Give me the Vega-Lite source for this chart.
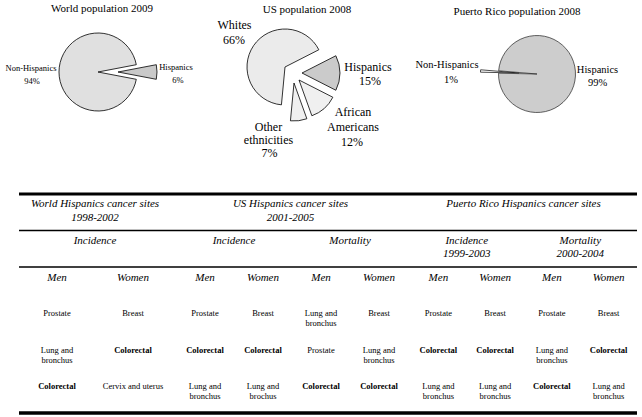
{
  "$schema": "https://vega.github.io/schema/vega-lite/v6.json",
  "padding": {"left": 0, "top": 0, "right": 0, "bottom": 0},
  "spacing": 26,
  "config": {"view": {"stroke": null}, "font": "Liberation Serif", "text": {"font": "Liberation Serif", "color": "black"}},
  "datasets": {
    "world": [{"group": "Hispanics", "share": 0.06}, {"group": "Non-Hispanics", "share": 0.94}],
    "us": [{"group": "Whites", "share": 0.66}, {"group": "Hispanics", "share": 0.15}, {"group": "African Americans", "share": 0.12}, {"group": "Other ethnicities", "share": 0.07}],
    "pr": [{"group": "Hispanics", "share": 0.99}, {"group": "Non-Hispanics", "share": 0.01}],
    "pieTitles": [{"pie": "World", "title": "World population 2009"}, {"pie": "US", "title": "US population 2008"}, {"pie": "Puerto Rico", "title": "Puerto Rico population 2008"}],
    "sections": [{"region": "World", "title": "World Hispanics cancer sites", "years": "1998-2002"}, {"region": "US", "title": "US Hispanics cancer sites", "years": "2001-2005"}, {"region": "Puerto Rico", "title": "Puerto Rico Hispanics cancer sites"}],
    "measures": [{"region": "World", "measure": "Incidence"}, {"region": "US", "measure": "Incidence"}, {"region": "US", "measure": "Mortality"}, {"region": "Puerto Rico", "measure": "Incidence", "years": "1999-2003"}, {"region": "Puerto Rico", "measure": "Mortality", "years": "2000-2004"}],
    "cells": [
      {"region": "World", "measure": "Incidence", "sex": "Men", "rank": "1st", "site": "Prostate"},
      {"region": "World", "measure": "Incidence", "sex": "Men", "rank": "2nd", "site": "Lung and\nbronchus"},
      {"region": "World", "measure": "Incidence", "sex": "Men", "rank": "3rd", "site": "Colorectal"},
      {"region": "World", "measure": "Incidence", "sex": "Women", "rank": "1st", "site": "Breast"},
      {"region": "World", "measure": "Incidence", "sex": "Women", "rank": "2nd", "site": "Colorectal"},
      {"region": "World", "measure": "Incidence", "sex": "Women", "rank": "3rd", "site": "Cervix and uterus"},
      {"region": "US", "measure": "Incidence", "sex": "Men", "rank": "1st", "site": "Prostate"},
      {"region": "US", "measure": "Incidence", "sex": "Men", "rank": "2nd", "site": "Colorectal"},
      {"region": "US", "measure": "Incidence", "sex": "Men", "rank": "3rd", "site": "Lung and\nbronchus"},
      {"region": "US", "measure": "Incidence", "sex": "Women", "rank": "1st", "site": "Breast"},
      {"region": "US", "measure": "Incidence", "sex": "Women", "rank": "2nd", "site": "Colorectal"},
      {"region": "US", "measure": "Incidence", "sex": "Women", "rank": "3rd", "site": "Lung and\nbrochus"},
      {"region": "US", "measure": "Mortality", "sex": "Men", "rank": "1st", "site": "Lung and\nbronchus"},
      {"region": "US", "measure": "Mortality", "sex": "Men", "rank": "2nd", "site": "Prostate"},
      {"region": "US", "measure": "Mortality", "sex": "Men", "rank": "3rd", "site": "Colorectal"},
      {"region": "US", "measure": "Mortality", "sex": "Women", "rank": "1st", "site": "Breast"},
      {"region": "US", "measure": "Mortality", "sex": "Women", "rank": "2nd", "site": "Lung and\nbronchus"},
      {"region": "US", "measure": "Mortality", "sex": "Women", "rank": "3rd", "site": "Colorectal"},
      {"region": "Puerto Rico", "measure": "Incidence", "sex": "Men", "rank": "1st", "site": "Prostate"},
      {"region": "Puerto Rico", "measure": "Incidence", "sex": "Men", "rank": "2nd", "site": "Colorectal"},
      {"region": "Puerto Rico", "measure": "Incidence", "sex": "Men", "rank": "3rd", "site": "Lung and\nbronchus"},
      {"region": "Puerto Rico", "measure": "Incidence", "sex": "Women", "rank": "1st", "site": "Breast"},
      {"region": "Puerto Rico", "measure": "Incidence", "sex": "Women", "rank": "2nd", "site": "Colorectal"},
      {"region": "Puerto Rico", "measure": "Incidence", "sex": "Women", "rank": "3rd", "site": "Lung and\nbronchus"},
      {"region": "Puerto Rico", "measure": "Mortality", "sex": "Men", "rank": "1st", "site": "Prostate"},
      {"region": "Puerto Rico", "measure": "Mortality", "sex": "Men", "rank": "2nd", "site": "Lung and\nbronchus"},
      {"region": "Puerto Rico", "measure": "Mortality", "sex": "Men", "rank": "3rd", "site": "Colorectal"},
      {"region": "Puerto Rico", "measure": "Mortality", "sex": "Women", "rank": "1st", "site": "Breast"},
      {"region": "Puerto Rico", "measure": "Mortality", "sex": "Women", "rank": "2nd", "site": "Colorectal"},
      {"region": "Puerto Rico", "measure": "Mortality", "sex": "Women", "rank": "3rd", "site": "Lung and\nbronchus"}
    ]
  },
  "vconcat": [
    {
      "spacing": 0,
      "bounds": "flush",
      "resolve": {"scale": {"color": "independent", "theta": "independent", "opacity": "independent"}},
      "hconcat": [
        {
          "width": 196, "height": 166,
          "layer": [
            {"data": {"name": "world"}, "mark": {"type": "arc", "radius": 39, "stroke": "black", "strokeWidth": 0.8, "yOffset": -11},
             "encoding": {
               "theta": {"field": "share", "type": "quantitative", "stack": true, "scale": {"domain": [0, 1], "range": [1.75929, 8.04248]}},
               "order": {"field": "share", "type": "quantitative", "sort": "descending"},
               "color": {"field": "group", "type": "nominal", "scale": {"domain": ["Non-Hispanics", "Hispanics"], "range": ["#e0e0e0", "#c9c9c9"]}, "legend": null},
               "opacity": {"condition": {"test": "datum.group === 'Non-Hispanics'", "value": 1}, "value": 0}}},
            {"data": {"name": "world"}, "mark": {"type": "arc", "radius": 39, "stroke": "black", "strokeWidth": 0.8, "xOffset": 20, "yOffset": -11},
             "encoding": {
               "theta": {"field": "share", "type": "quantitative", "stack": true, "scale": {"domain": [0, 1], "range": [1.75929, 8.04248]}},
               "order": {"field": "share", "type": "quantitative", "sort": "descending"},
               "color": {"field": "group", "type": "nominal", "scale": {"domain": ["Non-Hispanics", "Hispanics"], "range": ["#e0e0e0", "#c9c9c9"]}, "legend": null},
               "opacity": {"condition": {"test": "datum.group === 'Hispanics'", "value": 1}, "value": 0}}},
            {"data": {"name": "pieTitles"}, "transform": [{"filter": "datum.pie === 'World'"}], "mark": {"type": "text", "fontSize": 11, "dx": 4, "dy": -74.5}, "encoding": {"text": {"field": "title"}}},
            {"data": {"name": "world"}, "transform": [{"filter": "datum.group === 'Non-Hispanics'"}], "mark": {"type": "text", "fontSize": 8.5, "dx": -67, "dy": -15}, "encoding": {"text": {"field": "group"}}},
            {"data": {"name": "world"}, "transform": [{"filter": "datum.group === 'Non-Hispanics'"}], "mark": {"type": "text", "fontSize": 8.5, "dx": -66, "dy": -2}, "encoding": {"text": {"field": "share", "type": "quantitative", "format": ".0%"}}},
            {"data": {"name": "world"}, "transform": [{"filter": "datum.group === 'Hispanics'"}], "mark": {"type": "text", "fontSize": 8.5, "dx": 78, "dy": -16}, "encoding": {"text": {"field": "group"}}},
            {"data": {"name": "world"}, "transform": [{"filter": "datum.group === 'Hispanics'"}], "mark": {"type": "text", "fontSize": 8.5, "dx": 80, "dy": -3}, "encoding": {"text": {"field": "share", "type": "quantitative", "format": ".0%"}}}
          ]
        },
        {
          "width": 196, "height": 166,
          "layer": [
            {"data": {"name": "us"}, "mark": {"type": "arc", "radius": 38, "stroke": "black", "strokeWidth": 0.8, "xOffset": -9, "yOffset": -16},
             "encoding": {
               "theta": {"field": "share", "type": "quantitative", "stack": true, "scale": {"domain": [0, 1], "range": [3.23584, 9.51903]}},
               "order": {"field": "share", "type": "quantitative", "sort": "descending"},
               "color": {"field": "group", "type": "nominal", "scale": {"domain": ["Whites", "Hispanics", "African Americans", "Other ethnicities"], "range": ["#ebebeb", "#cbcbcb", "#f0f0f0", "#f0f0f0"]}, "legend": null},
               "opacity": {"condition": {"test": "datum.group === 'Whites'", "value": 1}, "value": 0}}},
            {"data": {"name": "us"}, "mark": {"type": "arc", "radius": 38, "stroke": "black", "strokeWidth": 0.8, "xOffset": 8, "yOffset": -10},
             "encoding": {
               "theta": {"field": "share", "type": "quantitative", "stack": true, "scale": {"domain": [0, 1], "range": [3.23584, 9.51903]}},
               "order": {"field": "share", "type": "quantitative", "sort": "descending"},
               "color": {"field": "group", "type": "nominal", "scale": {"domain": ["Whites", "Hispanics", "African Americans", "Other ethnicities"], "range": ["#ebebeb", "#cbcbcb", "#f0f0f0", "#f0f0f0"]}, "legend": null},
               "opacity": {"condition": {"test": "datum.group === 'Hispanics'", "value": 1}, "value": 0}}},
            {"data": {"name": "us"}, "mark": {"type": "arc", "radius": 38, "stroke": "black", "strokeWidth": 0.8, "xOffset": 5, "yOffset": -3},
             "encoding": {
               "theta": {"field": "share", "type": "quantitative", "stack": true, "scale": {"domain": [0, 1], "range": [3.23584, 9.51903]}},
               "order": {"field": "share", "type": "quantitative", "sort": "descending"},
               "color": {"field": "group", "type": "nominal", "scale": {"domain": ["Whites", "Hispanics", "African Americans", "Other ethnicities"], "range": ["#ebebeb", "#cbcbcb", "#f0f0f0", "#f0f0f0"]}, "legend": null},
               "opacity": {"condition": {"test": "datum.group === 'African Americans'", "value": 1}, "value": 0}}},
            {"data": {"name": "us"}, "mark": {"type": "arc", "radius": 38, "stroke": "black", "strokeWidth": 0.8, "xOffset": 0, "yOffset": 0},
             "encoding": {
               "theta": {"field": "share", "type": "quantitative", "stack": true, "scale": {"domain": [0, 1], "range": [3.23584, 9.51903]}},
               "order": {"field": "share", "type": "quantitative", "sort": "descending"},
               "color": {"field": "group", "type": "nominal", "scale": {"domain": ["Whites", "Hispanics", "African Americans", "Other ethnicities"], "range": ["#ebebeb", "#cbcbcb", "#f0f0f0", "#f0f0f0"]}, "legend": null},
               "opacity": {"condition": {"test": "datum.group === 'Other ethnicities'", "value": 1}, "value": 0}}},
            {"data": {"name": "pieTitles"}, "transform": [{"filter": "datum.pie === 'US'"}], "mark": {"type": "text", "fontSize": 11, "dx": 13, "dy": -73}, "encoding": {"text": {"field": "title"}}},
            {"data": {"name": "us"}, "transform": [{"filter": "datum.group === 'Whites'"}], "mark": {"type": "text", "fontSize": 12, "dx": -59.5, "dy": -58}, "encoding": {"text": {"field": "group"}}},
            {"data": {"name": "us"}, "transform": [{"filter": "datum.group === 'Whites'"}], "mark": {"type": "text", "fontSize": 12, "dx": -60, "dy": -43}, "encoding": {"text": {"field": "share", "type": "quantitative", "format": ".0%"}}},
            {"data": {"name": "us"}, "transform": [{"filter": "datum.group === 'Hispanics'"}], "mark": {"type": "text", "fontSize": 12, "dx": 74, "dy": -16}, "encoding": {"text": {"field": "group"}}},
            {"data": {"name": "us"}, "transform": [{"filter": "datum.group === 'Hispanics'"}], "mark": {"type": "text", "fontSize": 12, "dx": 76, "dy": -2}, "encoding": {"text": {"field": "share", "type": "quantitative", "format": ".0%"}}},
            {"data": {"name": "us"}, "transform": [{"filter": "datum.group === 'African Americans'"}], "mark": {"type": "text", "fontSize": 12, "lineBreak": " ", "lineHeight": 15, "dx": 59, "dy": 29}, "encoding": {"text": {"field": "group"}}},
            {"data": {"name": "us"}, "transform": [{"filter": "datum.group === 'African Americans'"}], "mark": {"type": "text", "fontSize": 12, "dx": 58, "dy": 59}, "encoding": {"text": {"field": "share", "type": "quantitative", "format": ".0%"}}},
            {"data": {"name": "us"}, "transform": [{"filter": "datum.group === 'Other ethnicities'"}], "mark": {"type": "text", "fontSize": 12, "lineBreak": " ", "lineHeight": 13.5, "dx": -25.5, "dy": 43.7}, "encoding": {"text": {"field": "group"}}},
            {"data": {"name": "us"}, "transform": [{"filter": "datum.group === 'Other ethnicities'"}], "mark": {"type": "text", "fontSize": 12, "dx": -24.5, "dy": 70.3}, "encoding": {"text": {"field": "share", "type": "quantitative", "format": ".0%"}}}
          ]
        },
        {
          "width": 250, "height": 166,
          "layer": [
            {"data": {"name": "pr"}, "mark": {"type": "arc", "radius": 38.5, "stroke": "black", "strokeWidth": 0.7, "xOffset": 2, "yOffset": -10},
             "encoding": {
               "theta": {"field": "share", "type": "quantitative", "stack": true, "scale": {"domain": [0, 1], "range": [4.79616, 11.07935]}},
               "order": {"field": "share", "type": "quantitative", "sort": "descending"},
               "color": {"field": "group", "type": "nominal", "scale": {"domain": ["Hispanics", "Non-Hispanics"], "range": ["#cdcdcd", "#ffffff"]}, "legend": null},
               "opacity": {"condition": {"test": "datum.group === 'Non-Hispanics'", "value": 1}, "value": 0}}},
            {"data": {"name": "pr"}, "mark": {"type": "arc", "radius": 38.5, "stroke": "#222222", "strokeWidth": 0.7, "xOffset": 20, "yOffset": -9},
             "encoding": {
               "theta": {"field": "share", "type": "quantitative", "stack": true, "scale": {"domain": [0, 1], "range": [4.79616, 11.07935]}},
               "order": {"field": "share", "type": "quantitative", "sort": "descending"},
               "color": {"field": "group", "type": "nominal", "scale": {"domain": ["Hispanics", "Non-Hispanics"], "range": ["#cdcdcd", "#ffffff"]}, "legend": null},
               "opacity": {"condition": {"test": "datum.group === 'Hispanics'", "value": 1}, "value": 0}}},
            {"data": {"name": "pieTitles"}, "transform": [{"filter": "datum.pie === 'Puerto Rico'"}], "mark": {"type": "text", "fontSize": 11, "dx": 0, "dy": -71}, "encoding": {"text": {"field": "title"}}},
            {"data": {"name": "pr"}, "transform": [{"filter": "datum.group === 'Non-Hispanics'"}], "mark": {"type": "text", "fontSize": 10.5, "dx": -70, "dy": -18}, "encoding": {"text": {"field": "group"}}},
            {"data": {"name": "pr"}, "transform": [{"filter": "datum.group === 'Non-Hispanics'"}], "mark": {"type": "text", "fontSize": 10.5, "dx": -66, "dy": -3}, "encoding": {"text": {"field": "share", "type": "quantitative", "format": ".0%"}}},
            {"data": {"name": "pr"}, "transform": [{"filter": "datum.group === 'Hispanics'"}], "mark": {"type": "text", "fontSize": 10.5, "dx": 80.5, "dy": -13}, "encoding": {"text": {"field": "group"}}},
            {"data": {"name": "pr"}, "transform": [{"filter": "datum.group === 'Hispanics'"}], "mark": {"type": "text", "fontSize": 10.5, "dx": 80.5, "dy": 0}, "encoding": {"text": {"field": "share", "type": "quantitative", "format": ".0%"}}}
          ]
        }
      ]
    },
    {
      "spacing": 0,
      "bounds": "flush",
      "resolve": {"scale": {"xOffset": "independent", "x": "independent", "y": "independent"}},
      "hconcat": [
        {
          "width": 171, "height": 219,
          "layer": [
            {"data": {"values": [{}]}, "mark": {"type": "rule", "strokeWidth": 3, "color": "black"},
             "encoding": {"x": {"datum": "Incidence", "type": "nominal", "bandPosition": 0, "scale": {"domain": ["Incidence"], "paddingInner": 0, "paddingOuter": 0.0625, "align": 1}, "axis": null}, "x2": {"value": "width"},
                          "y": {"datum": "Site", "type": "ordinal", "bandPosition": 0, "scale": {"domain": ["Site", "Measure", "Sex", "1st", "2nd", "3rd"], "paddingInner": 0, "paddingOuter": 0}, "axis": null}}},
            {"data": {"values": [{"edge": "Measure"}, {"edge": "Sex"}]}, "mark": {"type": "rule", "strokeWidth": 1.5, "color": "black"},
             "encoding": {"x": {"datum": "Incidence", "type": "nominal", "bandPosition": 0, "axis": null}, "x2": {"value": "width"},
                          "y": {"field": "edge", "type": "ordinal", "bandPosition": 0, "axis": null}}},
            {"data": {"values": [{}]}, "mark": {"type": "rule", "strokeWidth": 3.5, "color": "black"},
             "encoding": {"x": {"datum": "Incidence", "type": "nominal", "bandPosition": 0, "axis": null}, "x2": {"value": "width"},
                          "y": {"datum": "3rd", "type": "ordinal", "bandPosition": 1, "axis": null}}},
            {"data": {"name": "sections"}, "transform": [{"filter": "datum.region === 'World'"}], "mark": {"type": "text", "fontSize": 11, "fontStyle": "italic", "baseline": "top", "dy": -14.25},
             "encoding": {"x": {"datum": "Incidence", "type": "nominal", "axis": null}, "y": {"datum": "Site", "type": "ordinal", "axis": null}, "text": {"field": "title"}}},
            {"data": {"name": "sections"}, "transform": [{"filter": "datum.region === 'World'"}], "mark": {"type": "text", "fontSize": 11, "fontStyle": "italic", "baseline": "top", "dy": -0.25},
             "encoding": {"x": {"datum": "Incidence", "type": "nominal", "axis": null}, "y": {"datum": "Site", "type": "ordinal", "axis": null}, "text": {"field": "years"}}},
            {"data": {"name": "measures"}, "transform": [{"filter": "datum.region === 'World'"}], "mark": {"type": "text", "fontSize": 11, "fontStyle": "italic", "baseline": "top", "dy": -14},
             "encoding": {"x": {"field": "measure", "type": "nominal", "axis": null}, "y": {"datum": "Measure", "type": "ordinal", "axis": null}, "text": {"field": "measure"}}},
            {"data": {"name": "cells"}, "transform": [{"filter": "datum.region === 'World' && datum.rank === '1st'"}], "mark": {"type": "text", "fontSize": 11, "fontStyle": "italic", "baseline": "middle", "dy": -7},
             "encoding": {"x": {"field": "measure", "type": "nominal", "axis": null}, "xOffset": {"field": "sex", "type": "nominal", "scale": {"domain": ["Men", "Women"], "padding": 0.5}}, "y": {"datum": "Sex", "type": "ordinal", "axis": null}, "text": {"field": "sex"}}},
            {"data": {"name": "cells"}, "transform": [{"filter": "datum.region === 'World' && datum.site !== 'Colorectal'"}], "mark": {"type": "text", "fontSize": 8.5, "baseline": "top", "dy": -12.5, "lineBreak": "\n", "lineHeight": 10},
             "encoding": {"x": {"field": "measure", "type": "nominal", "axis": null}, "xOffset": {"field": "sex", "type": "nominal"}, "y": {"field": "rank", "type": "ordinal", "axis": null}, "text": {"field": "site"}}},
            {"data": {"name": "cells"}, "transform": [{"filter": "datum.region === 'World' && datum.site === 'Colorectal'"}], "mark": {"type": "text", "fontSize": 8.5, "fontWeight": "bold", "baseline": "top", "dy": -12.5, "lineBreak": "\n", "lineHeight": 10},
             "encoding": {"x": {"field": "measure", "type": "nominal", "axis": null}, "xOffset": {"field": "sex", "type": "nominal"}, "y": {"field": "rank", "type": "ordinal", "axis": null}, "text": {"field": "site"}}}
          ]
        },
        {
          "width": 239, "height": 219,
          "layer": [
            {"data": {"values": [{}]}, "mark": {"type": "rule", "strokeWidth": 3, "color": "black"},
             "encoding": {"y": {"datum": "Site", "type": "ordinal", "bandPosition": 0, "scale": {"domain": ["Site", "Measure", "Sex", "1st", "2nd", "3rd"], "paddingInner": 0, "paddingOuter": 0}, "axis": null}}},
            {"data": {"values": [{"edge": "Measure"}, {"edge": "Sex"}]}, "mark": {"type": "rule", "strokeWidth": 1.5, "color": "black"},
             "encoding": {"y": {"field": "edge", "type": "ordinal", "bandPosition": 0, "axis": null}}},
            {"data": {"values": [{}]}, "mark": {"type": "rule", "strokeWidth": 3.5, "color": "black"},
             "encoding": {"y": {"datum": "3rd", "type": "ordinal", "bandPosition": 1, "axis": null}}},
            {"data": {"name": "sections"}, "transform": [{"filter": "datum.region === 'US'"}], "mark": {"type": "text", "fontSize": 11, "fontStyle": "italic", "baseline": "top", "dy": -14.25},
             "encoding": {"y": {"datum": "Site", "type": "ordinal", "axis": null}, "text": {"field": "title"}}},
            {"data": {"name": "sections"}, "transform": [{"filter": "datum.region === 'US'"}], "mark": {"type": "text", "fontSize": 11, "fontStyle": "italic", "baseline": "top", "dy": -0.25},
             "encoding": {"y": {"datum": "Site", "type": "ordinal", "axis": null}, "text": {"field": "years"}}},
            {"data": {"name": "measures"}, "transform": [{"filter": "datum.region === 'US'"}], "mark": {"type": "text", "fontSize": 11, "fontStyle": "italic", "baseline": "top", "dy": -14},
             "encoding": {"x": {"field": "measure", "type": "nominal", "scale": {"domain": ["Incidence", "Mortality"], "paddingInner": 0, "paddingOuter": 0.0302, "align": 0.714}, "axis": null}, "y": {"datum": "Measure", "type": "ordinal", "axis": null}, "text": {"field": "measure"}}},
            {"data": {"name": "cells"}, "transform": [{"filter": "datum.region === 'US' && datum.rank === '1st'"}], "mark": {"type": "text", "fontSize": 11, "fontStyle": "italic", "baseline": "middle", "dy": -7},
             "encoding": {"x": {"field": "measure", "type": "nominal", "axis": null}, "xOffset": {"field": "sex", "type": "nominal", "scale": {"domain": ["Men", "Women"], "padding": 0.5}}, "y": {"datum": "Sex", "type": "ordinal", "axis": null}, "text": {"field": "sex"}}},
            {"data": {"name": "cells"}, "transform": [{"filter": "datum.region === 'US' && datum.site !== 'Colorectal'"}], "mark": {"type": "text", "fontSize": 8.5, "baseline": "top", "dy": -12.5, "lineBreak": "\n", "lineHeight": 10},
             "encoding": {"x": {"field": "measure", "type": "nominal", "axis": null}, "xOffset": {"field": "sex", "type": "nominal"}, "y": {"field": "rank", "type": "ordinal", "axis": null}, "text": {"field": "site"}}},
            {"data": {"name": "cells"}, "transform": [{"filter": "datum.region === 'US' && datum.site === 'Colorectal'"}], "mark": {"type": "text", "fontSize": 8.5, "fontWeight": "bold", "baseline": "top", "dy": -12.5, "lineBreak": "\n", "lineHeight": 10},
             "encoding": {"x": {"field": "measure", "type": "nominal", "axis": null}, "xOffset": {"field": "sex", "type": "nominal"}, "y": {"field": "rank", "type": "ordinal", "axis": null}, "text": {"field": "site"}}}
          ]
        },
        {
          "width": 227, "height": 219,
          "layer": [
            {"data": {"values": [{}]}, "mark": {"type": "rule", "strokeWidth": 3, "color": "black"},
             "encoding": {"y": {"datum": "Site", "type": "ordinal", "bandPosition": 0, "scale": {"domain": ["Site", "Measure", "Sex", "1st", "2nd", "3rd"], "paddingInner": 0, "paddingOuter": 0}, "axis": null}}},
            {"data": {"values": [{"edge": "Measure"}, {"edge": "Sex"}]}, "mark": {"type": "rule", "strokeWidth": 1.5, "color": "black"},
             "encoding": {"y": {"field": "edge", "type": "ordinal", "bandPosition": 0, "axis": null}}},
            {"data": {"values": [{}]}, "mark": {"type": "rule", "strokeWidth": 3.5, "color": "black"},
             "encoding": {"y": {"datum": "3rd", "type": "ordinal", "bandPosition": 1, "axis": null}}},
            {"data": {"name": "sections"}, "transform": [{"filter": "datum.region === 'Puerto Rico'"}], "mark": {"type": "text", "fontSize": 11, "fontStyle": "italic", "baseline": "top", "dy": -14.25},
             "encoding": {"y": {"datum": "Site", "type": "ordinal", "axis": null}, "text": {"field": "title"}}},
            {"data": {"name": "measures"}, "transform": [{"filter": "datum.region === 'Puerto Rico'"}], "mark": {"type": "text", "fontSize": 11, "fontStyle": "italic", "baseline": "top", "dy": -14},
             "encoding": {"x": {"field": "measure", "type": "nominal", "scale": {"domain": ["Incidence", "Mortality"], "paddingInner": 0, "paddingOuter": 0}, "axis": null}, "y": {"datum": "Measure", "type": "ordinal", "axis": null}, "text": {"field": "measure"}}},
            {"data": {"name": "measures"}, "transform": [{"filter": "datum.region === 'Puerto Rico'"}], "mark": {"type": "text", "fontSize": 11, "fontStyle": "italic", "baseline": "top", "dy": -1},
             "encoding": {"x": {"field": "measure", "type": "nominal", "axis": null}, "y": {"datum": "Measure", "type": "ordinal", "axis": null}, "text": {"field": "years"}}},
            {"data": {"name": "cells"}, "transform": [{"filter": "datum.region === 'Puerto Rico' && datum.rank === '1st'"}], "mark": {"type": "text", "fontSize": 11, "fontStyle": "italic", "baseline": "middle", "dy": -7},
             "encoding": {"x": {"field": "measure", "type": "nominal", "axis": null}, "xOffset": {"field": "sex", "type": "nominal", "scale": {"domain": ["Men", "Women"], "padding": 0.5}}, "y": {"datum": "Sex", "type": "ordinal", "axis": null}, "text": {"field": "sex"}}},
            {"data": {"name": "cells"}, "transform": [{"filter": "datum.region === 'Puerto Rico' && datum.site !== 'Colorectal'"}], "mark": {"type": "text", "fontSize": 8.5, "baseline": "top", "dy": -12.5, "lineBreak": "\n", "lineHeight": 10},
             "encoding": {"x": {"field": "measure", "type": "nominal", "axis": null}, "xOffset": {"field": "sex", "type": "nominal"}, "y": {"field": "rank", "type": "ordinal", "axis": null}, "text": {"field": "site"}}},
            {"data": {"name": "cells"}, "transform": [{"filter": "datum.region === 'Puerto Rico' && datum.site === 'Colorectal'"}], "mark": {"type": "text", "fontSize": 8.5, "fontWeight": "bold", "baseline": "top", "dy": -12.5, "lineBreak": "\n", "lineHeight": 10},
             "encoding": {"x": {"field": "measure", "type": "nominal", "axis": null}, "xOffset": {"field": "sex", "type": "nominal"}, "y": {"field": "rank", "type": "ordinal", "axis": null}, "text": {"field": "site"}}}
          ]
        }
      ]
    }
  ]
}
